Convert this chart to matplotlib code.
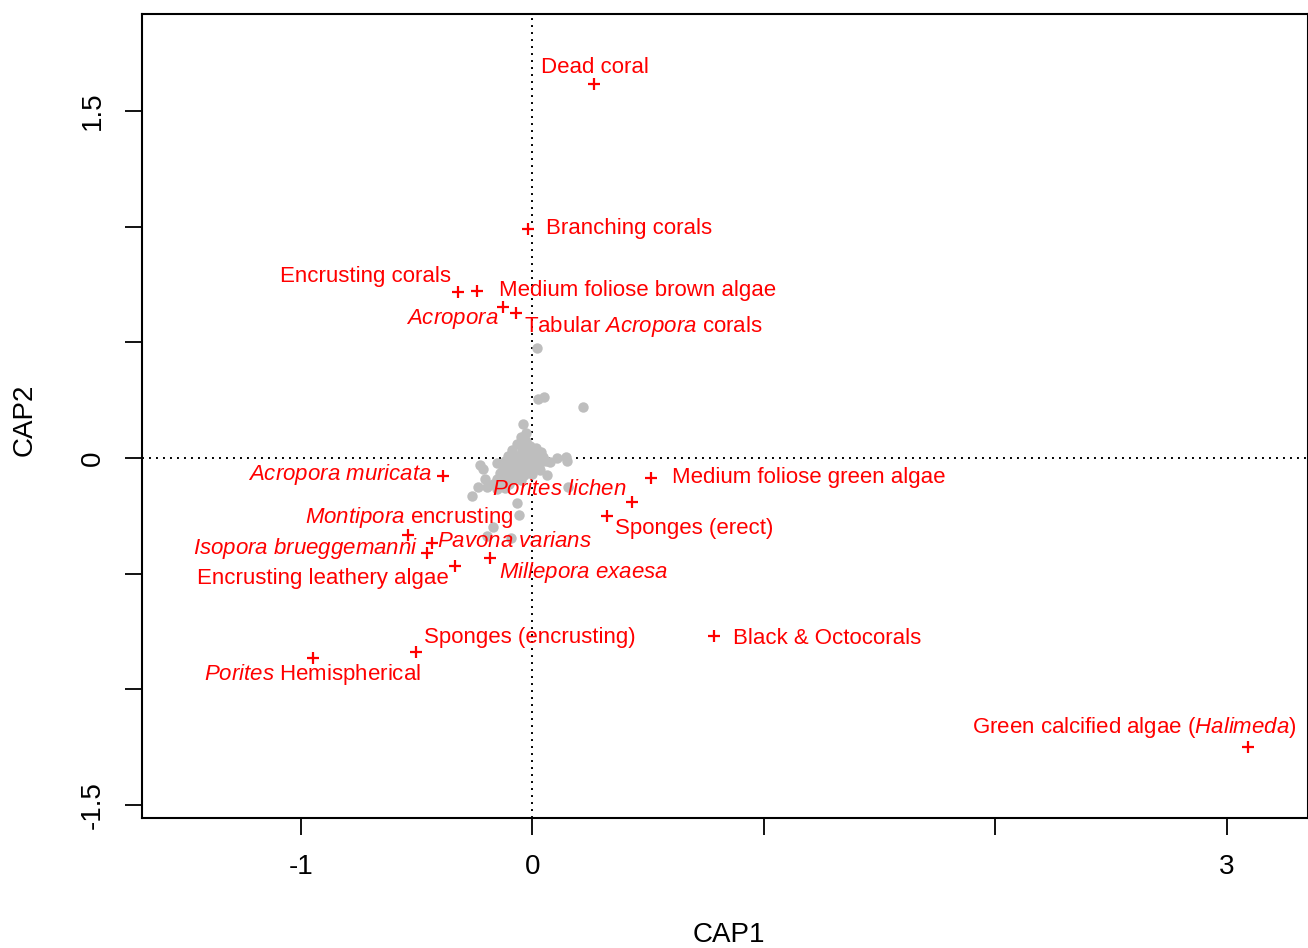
import matplotlib
matplotlib.use("Agg")
import matplotlib.pyplot as plt

plt.rcParams['font.family'] = ['Liberation Sans', 'DejaVu Sans']
plt.rcParams['mathtext.fontset'] = 'custom'
plt.rcParams['mathtext.rm'] = 'Liberation Sans'
plt.rcParams['mathtext.it'] = 'Liberation Sans:italic'

# ---- data ----
site_x = [0.022, 0.052, 0.026, 0.220, -0.039, -0.026, 0.108, 0.147, 0.151, 0.078,
          0.065, -0.225, -0.212, -0.203, -0.233, -0.259, -0.195, -0.151, -0.065, -0.056,
          0.156, -0.169, -0.195, -0.091,
          -0.048, -0.026, -0.065, -0.009, 0.017, -0.086, -0.043, -0.004, 0.039, -0.104,
          -0.069, -0.030, 0.009, 0.048, -0.117, -0.082, -0.048, -0.013, 0.026, 0.061,
          -0.125, -0.091, -0.056, -0.022, 0.013, -0.138, -0.104, -0.069, -0.035, 0.000,
          -0.151, -0.117, -0.082, -0.048, -0.169, -0.134, -0.099, -0.151, -0.117, -0.078,
          0.035, -0.035, -0.010, 0.005, -0.020, 0.030, -0.060, -0.100, -0.130, 0.020]
site_y = [0.476, 0.264, 0.255, 0.220, 0.147, 0.108, 0.000, 0.004, -0.013, -0.017,
          -0.073, -0.030, -0.048, -0.091, -0.125, -0.164, -0.125, -0.022, -0.195, -0.246,
          -0.125, -0.298, -0.337, -0.346,
          0.091, 0.073, 0.061, 0.052, 0.043, 0.035, 0.030, 0.022, 0.026, 0.009,
          0.009, 0.004, 0.000, 0.004, -0.013, -0.017, -0.017, -0.022, -0.022, -0.013,
          -0.039, -0.039, -0.043, -0.048, -0.043, -0.065, -0.065, -0.069, -0.073, -0.069,
          -0.091, -0.091, -0.091, -0.095, -0.112, -0.112, -0.112, -0.134, -0.130, -0.052,
          -0.052, 0.048, 0.030, -0.030, -0.060, -0.035, -0.075, -0.080, -0.095, 0.015]

species = ["Dead coral", "Branching corals", "Encrusting corals",
           "Medium foliose brown algae", "Acropora", "Tabular Acropora corals",
           "Acropora muricata", "Porites lichen", "Sponges (erect)",
           "Medium foliose green algae", "Montipora encrusting", "Pavona varians",
           "Isopora brueggemanni", "Encrusting leathery algae", "Millepora exaesa",
           "Sponges (encrusting)", "Porites Hemispherical", "Black & Octocorals",
           "Green calcified algae (Halimeda)"]
species_x = [0.268, -0.017, -0.320, -0.238, -0.125, -0.069, -0.385, 0.432, 0.324,
             0.514, -0.536, -0.432, -0.454, -0.333, -0.182, -0.502, -0.947, 0.787, 3.091]
species_y = [1.617, 0.990, 0.718, 0.722, 0.653, 0.627, -0.078, -0.190, -0.251,
             -0.086, -0.333, -0.367, -0.411, -0.467, -0.432, -0.839, -0.865, -0.770, -1.249]

# display text (italic genus names)
label_text = [
    "Dead coral", "Branching corals", "Encrusting corals",
    "Medium foliose brown algae", r"$\mathit{Acropora}$",
    r"Tabular $\mathit{Acropora}$ corals",
    r"$\mathit{Acropora\ muricata}$", r"$\mathit{Porites\ lichen}$", "Sponges (erect)",
    "Medium foliose green algae", r"$\mathit{Montipora}$ encrusting",
    r"$\mathit{Pavona\ varians}$", r"$\mathit{Isopora\ brueggemanni}$",
    "Encrusting leathery algae", r"$\mathit{Millepora\ exaesa}$",
    "Sponges (encrusting)", r"$\mathit{Porites}$ Hemispherical", "Black & Octocorals",
    r"Green calcified algae ($\mathit{Halimeda}$)"]

x_ticks = [-1, 0, 1, 2, 3]
x_ticklabels = ["-1", "0", "", "", "3"]
y_ticks = [-1.5, -1.0, -0.5, 0.0, 0.5, 1.0, 1.5]
y_ticklabels = ["-1.5", "", "", "0", "", "", "1.5"]

# ---- layout ----
label_pos = [(0.272, 1.690, 'center'), (0.061, 0.994, 'left'), (-0.350, 0.783, 'right'),
             (-0.143, 0.726, 'left'), (-0.147, 0.601, 'right'), (-0.035, 0.571, 'left'),
             (-0.432, -0.069, 'right'), (-0.173, -0.134, 'left'), (0.359, -0.303, 'left'),
             (0.605, -0.082, 'left'), (-0.082, -0.255, 'right'), (-0.411, -0.359, 'left'),
             (-0.493, -0.393, 'right'), (-0.359, -0.519, 'right'), (-0.143, -0.493, 'left'),
             (-0.467, -0.774, 'left'), (-0.480, -0.934, 'right'), (0.869, -0.778, 'left'),
             (3.303, -1.163, 'right')]

fig = plt.figure(figsize=(13.08, 9.48), dpi=100)
ax = fig.add_axes([142/1308, 1-818/948, 1-142/1308, (818-14)/948])

ax.axhline(0, color='black', lw=1.4, ls=(0, (1, 2.6)), zorder=1)
ax.axvline(0, color='black', lw=1.4, ls=(0, (1, 2.6)), zorder=1)

ax.plot(site_x, site_y, 'o', color='#bebebe', ms=7.5, mec='none', zorder=2)
ax.plot(species_x, species_y, '+', color='red', ms=9, mew=1.6, zorder=3)

for txt, (lx, ly, ha) in zip(label_text, label_pos):
    ax.text(lx, ly, txt, color='red', fontsize=16, ha=ha, va='center', zorder=4)

ax.set_xlim(-1.686, 3.351)
ax.set_ylim(-1.556, 1.920)
ax.set_xticks(x_ticks)
ax.set_xticklabels(x_ticklabels)
ax.set_yticks(y_ticks)
ax.set_yticklabels(y_ticklabels, rotation=90, va='center')
ax.tick_params(axis='both', direction='out', length=12, width=1.3, labelsize=20, pad=14)
for s in ax.spines.values():
    s.set_linewidth(1.5)
fig.text(729/1308, 1-935/948, "CAP1", fontsize=20, ha='center', va='center')
fig.text(25/1308, 1-420/948, "CAP2", fontsize=20, ha='center', va='center', rotation=90)

fig.savefig("out.png", dpi=100)
